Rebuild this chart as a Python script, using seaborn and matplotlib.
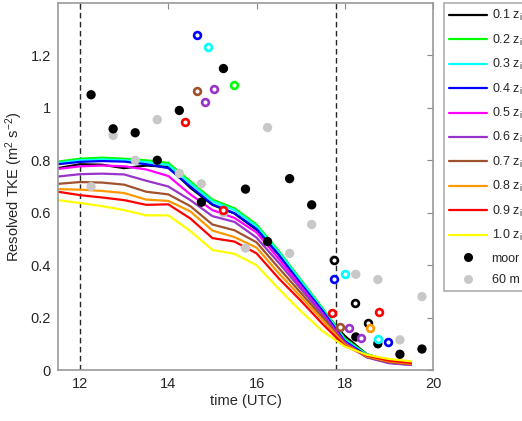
import numpy as np
import pandas as pd
import matplotlib
matplotlib.use("Agg")
import matplotlib.pyplot as plt
import seaborn as sns
from matplotlib.lines import Line2D

# model output, resolved TKE at fractions of the boundary-layer depth
hours = [11.5, 12.0, 12.5, 13.0, 13.5, 14.0, 14.5, 15.0, 15.5,
         16.0, 16.5, 17.0, 17.5, 18.0, 18.5, 19.0, 19.5]
levels = ["0.1", "0.2", "0.3", "0.4", "0.5", "0.6", "0.7", "0.8", "0.9", "1.0"]

tke_01 = [0.770, 0.785, 0.783, 0.770, 0.780, 0.775, 0.695, 0.630, 0.597,
          0.535, 0.440, 0.330, 0.225, 0.130, 0.060, 0.035, 0.025]
tke_02 = [0.795, 0.806, 0.810, 0.806, 0.800, 0.790, 0.720, 0.650, 0.617,
          0.555, 0.455, 0.345, 0.235, 0.120, 0.060, 0.035, 0.024]
tke_03 = [0.790, 0.800, 0.803, 0.800, 0.793, 0.782, 0.712, 0.643, 0.610,
          0.548, 0.450, 0.340, 0.230, 0.115, 0.058, 0.034, 0.024]
tke_04 = [0.785, 0.794, 0.797, 0.795, 0.785, 0.770, 0.700, 0.632, 0.598,
          0.538, 0.440, 0.330, 0.225, 0.110, 0.055, 0.033, 0.024]
tke_05 = [0.767, 0.777, 0.780, 0.777, 0.765, 0.740, 0.670, 0.610, 0.580,
          0.525, 0.425, 0.320, 0.215, 0.105, 0.050, 0.028, 0.020]
tke_06 = [0.738, 0.747, 0.749, 0.746, 0.722, 0.700, 0.648, 0.587, 0.565,
          0.505, 0.410, 0.310, 0.210, 0.100, 0.048, 0.026, 0.019]
tke_07 = [0.710, 0.717, 0.715, 0.707, 0.680, 0.670, 0.625, 0.555, 0.533,
          0.487, 0.390, 0.295, 0.200, 0.100, 0.050, 0.030, 0.022]
tke_08 = [0.690, 0.688, 0.683, 0.675, 0.650, 0.645, 0.605, 0.532, 0.507,
          0.467, 0.370, 0.280, 0.190, 0.097, 0.052, 0.033, 0.024]
tke_09 = [0.680, 0.667, 0.658, 0.648, 0.630, 0.632, 0.578, 0.503, 0.490,
          0.445, 0.350, 0.265, 0.175, 0.092, 0.055, 0.036, 0.027]
tke_10 = [0.648, 0.637, 0.625, 0.610, 0.590, 0.590, 0.530, 0.458, 0.443,
          0.400, 0.310, 0.225, 0.148, 0.090, 0.058, 0.042, 0.033]

level_colors = ["#000000", "#00ff00", "#00ffff", "#0000ff", "#ff00ff",
                "#9933cc", "#a0522d", "#ff9900", "#ff0000", "#ffff00"]

# observations
obs_hours = [12.25, 12.75, 13.25, 13.75, 14.25, 14.75, 15.25, 15.75,
             16.25, 16.75, 17.25, 17.75, 18.25, 18.75, 19.25, 19.75]
tke_60m = [0.70, 0.895, 0.80, 0.955, 0.75, 0.71, 0.60, 0.465,
           0.925, 0.445, 0.555, 0.42, 0.365, 0.345, 0.115, 0.28]
moor_hours = [12.25, 12.75, 13.25, 13.75, 14.25, 14.75, 15.25, 15.75,
              16.25, 16.75, 17.25, 18.25, 18.75, 19.25, 19.75]
tke_moor = [1.05, 0.92, 0.905, 0.80, 0.99, 0.64, 1.15, 0.69,
            0.49, 0.73, 0.63, 0.126, 0.10, 0.06, 0.08]

# open circles, coloured by level
ring_level = ["0.4", "0.4", "0.4", "0.3", "0.3", "0.3", "0.2", "0.7", "0.7",
              "0.6", "0.6", "0.6", "0.6", "0.9", "0.9", "0.9", "0.9",
              "0.1", "0.1", "0.1", "0.8"]
ring_hours = [14.65, 17.76, 18.99, 14.90, 18.00, 18.76, 15.48, 14.64, 17.89,
              15.03, 14.83, 18.10, 18.36, 14.39, 15.23, 17.70, 18.78,
              17.76, 18.23, 18.52, 18.57]
ring_tke = [1.277, 0.349, 0.105, 1.234, 0.366, 0.117, 1.086, 1.064, 0.165,
            1.072, 1.021, 0.159, 0.121, 0.947, 0.610, 0.218, 0.222,
            0.419, 0.254, 0.180, 0.160]

series = [tke_01, tke_02, tke_03, tke_04, tke_05,
          tke_06, tke_07, tke_08, tke_09, tke_10]
df = pd.DataFrame({
    "time": np.tile(hours, len(levels)),
    "tke": np.concatenate(series),
    "level": np.repeat(levels, len(hours)),
})
palette = dict(zip(levels, level_colors))
rings = pd.DataFrame({"time": ring_hours, "tke": ring_tke, "level": ring_level})

sns.set_style("white")
plt.rcParams["font.family"] = ["Liberation Sans", "DejaVu Sans"]
plt.rcParams["mathtext.fontset"] = "custom"
plt.rcParams["mathtext.rm"] = "Liberation Sans"
plt.rcParams["mathtext.it"] = "Liberation Sans"

fig = plt.figure(figsize=(5.22, 4.21), dpi=100)
ax = fig.add_axes([58 / 522, 51 / 421, 375 / 522, 367 / 421])

sns.lineplot(data=df, x="time", y="tke", hue="level", palette=palette,
             linewidth=1.6, legend=False, estimator=None, sort=False, ax=ax)

for xv in [12.0, 17.8]:
    ax.axvline(xv, color="0.15", lw=1.0, ls=(0, (4, 2.5)), zorder=1)

sns.scatterplot(x=obs_hours, y=tke_60m, color="#c8c8c8", s=45,
                edgecolor="none", ax=ax, zorder=3)
sns.scatterplot(x=moor_hours, y=tke_moor, color="black", s=45,
                edgecolor="none", ax=ax, zorder=4)
for lev, grp in rings.groupby("level"):
    ax.scatter(grp["time"], grp["tke"], s=24, facecolors="white",
               edgecolors=palette[lev], linewidths=1.9, zorder=5)

ax.set_xlim(11.5, 20)
ax.set_ylim(0, 1.4)
ax.set_xticks([12, 14, 16, 18, 20])
ax.set_yticks([0, 0.2, 0.4, 0.6, 0.8, 1.0, 1.2])
ax.set_yticklabels(["0", "0.2", "0.4", "0.6", "0.8", "1", "1.2"])
ax.tick_params(direction="in", top=True, right=True, length=4,
               color="#888888", labelsize=10.5, pad=5)
for sp in ax.spines.values():
    sp.set_color("#999999")
    sp.set_linewidth(1.2)
ax.set_xlabel("time (UTC)", fontsize=10.5, labelpad=2)
ax.set_ylabel("Resolved TKE (m$^2$ s$^{-2}$)", fontsize=10.5, labelpad=4)

handles = [Line2D([], [], color=c, lw=1.6) for c in level_colors]
labels = [f"{lv} z$_\\mathrm{{i}}$" for lv in levels]
handles += [Line2D([], [], ls="none", marker="o", color="black", ms=6.5, mec="none"),
            Line2D([], [], ls="none", marker="o", color="#c8c8c8", ms=6.5, mec="none")]
labels += ["moor", "60 m"]
leg = fig.legend(handles, labels, loc="upper left",
                 bbox_to_anchor=(444 / 522, 1 - 3 / 421),
                 bbox_transform=fig.transFigure, frameon=True, fancybox=False,
                 edgecolor="#999999", fontsize=9, handlelength=3.0,
                 handletextpad=0.4, labelspacing=0.75, borderpad=0.4,
                 borderaxespad=0)
leg.get_frame().set_linewidth(1.2)

fig.savefig("out.png", dpi=100)
